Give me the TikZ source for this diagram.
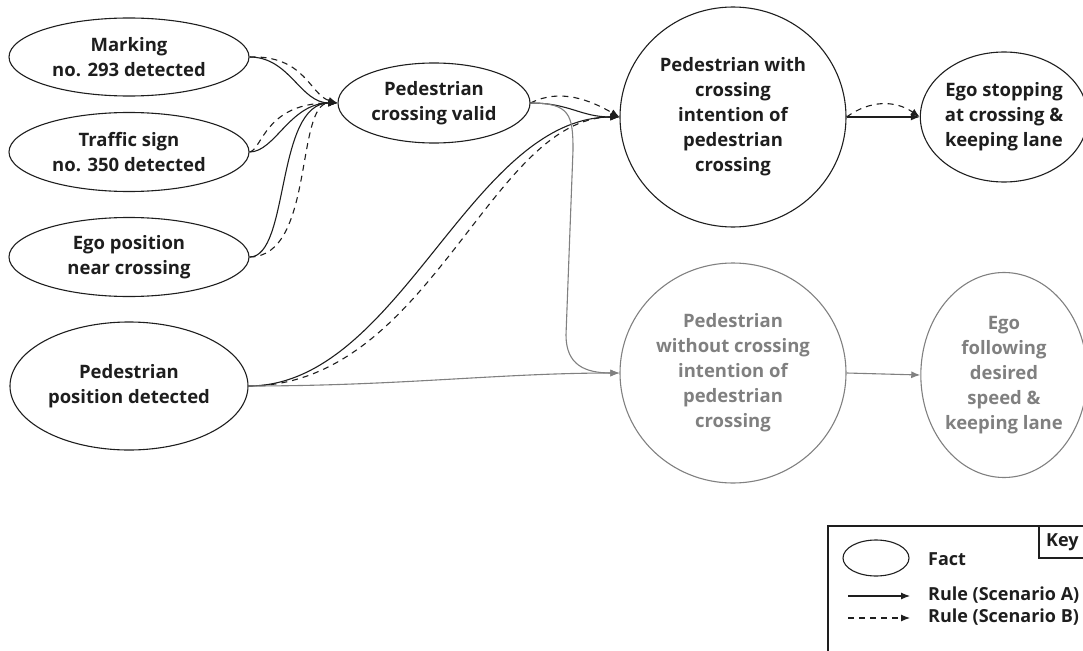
\documentclass[tikz,border=0pt]{standalone}
\usepackage{fontspec}
\setmainfont{Open Sans}
\usetikzlibrary{shapes.geometric,arrows.meta}
\definecolor{ink}{HTML}{1E1E1E}
\definecolor{dim}{HTML}{808080}

\begin{document}
\begin{tikzpicture}[x=1pt,y=-1pt]
			%\draw[help lines] (0,0) grid (1083,650);
			\clip (0,0) rectangle (1083,650);
			
			\tikzset{
				fact/.style = {ellipse, draw=ink, line width=1.1pt, text=ink, inner sep=0pt, align=center,
					font=\fontsize{18.5}{25}\selectfont\bfseries},
				dimfact/.style = {fact, draw=dim, text=dim},
				ruleA/.style = {draw=ink, line width=1.1pt, -{Latex[length=9pt,width=7pt]}},
				ruleB/.style = {ruleA, dash pattern=on 6pt off 5pt},
				dimrule/.style = {ruleA, draw=dim},
				keytext/.style = {anchor=west, text=ink, inner sep=0pt, font=\fontsize{18}{20}\selectfont\bfseries}
			}
			
			\node[fact, minimum width=240pt, minimum height=78pt] (0) at (129,57) {Marking\\no. 293 detected};
			\node[fact, minimum width=240pt, minimum height=79pt] (1) at (129,152) {Traffic sign\\no. 350 detected};
			\node[fact, minimum width=240pt, minimum height=79pt] (2) at (129,257) {Ego position\\near crossing};
			\node[fact, minimum width=238pt, minimum height=128pt] (3) at (129,386) {Pedestrian\\position detected};
			
			\node[fact, minimum width=192pt, minimum height=80pt] (10) at (434,103) {Pedestrian\\crossing valid};
			
			\node[fact, minimum width=226pt, minimum height=220pt] (20) at (733,117) {Pedestrian with\\crossing\\intention of\\pedestrian\\crossing};
			\node[dimfact, minimum width=226pt, minimum height=220pt] (21) at (733,373) {Pedestrian\\without crossing\\intention of\\pedestrian\\crossing};
			
			\node[fact, minimum width=162pt, minimum height=130pt] (30) at (1004,117) {Ego stopping\\at crossing \&\\keeping lane};
			\node[dimfact, minimum width=162pt, minimum height=205pt] (31) at (1004,375) {Ego\\following\\desired\\speed \&\\keeping lane};
			
			% scenario A
			\draw[ruleA] (0.east) .. controls (290,57) and (300,103) .. (10.west);
			\draw[ruleA] (1.east) .. controls (275,152) and (290,103) .. (10.west);
			\draw[ruleA] (2.east) .. controls (290,257) and (275,103) .. (10.west);
			\draw[ruleA] (10.east) .. controls (570,103) and (580,117) .. (20.west);
			\draw[ruleA] (3.east) .. controls (400,386) and (470,117) .. (20.west);
			\draw[ruleA] (20.east) -- (30.west);
			
			% scenario B
			\draw[ruleB] (0.east) .. controls (305,55) and (310,95) .. (10.west);
			\draw[ruleB] (1.east) .. controls (262,150) and (265,103) .. (10.west);
			\draw[ruleB] (2.east) .. controls (315,257) and (295,103) .. (10.west);
			\draw[ruleB] (10.east) .. controls (560,88) and (590,100) .. (20.west);
			\draw[ruleB] (3.east) .. controls (430,386) and (490,117) .. (20.west);
			\draw[ruleB] (20.east) .. controls (870,100) and (895,100) .. (30.west);
			
			% not taken
			\draw[dimrule] (10.east) .. controls (570,103) and (573,115) .. (573,150) -- (566,335) .. controls (566,365) and (585,373) .. (21.west);
			\draw[dimrule] (3.east) .. controls (400,386) and (500,373) .. (21.west);
			\draw[dimrule] (21.east) -- (31.west);
			
			% key
			\draw[ink, line width=1.1pt] (828,526) rectangle (1100,670);
			\draw[ink, line width=1.1pt] (1039,526) rectangle (1100,558);
			\node[keytext] (k) at (1046,542) {Key};
			\node[fact, minimum width=66pt, minimum height=36pt] (k0) at (876,558) {};
			\coordinate (ka0) at (848,596);
			\coordinate (ka1) at (910,596);
			\coordinate (kb0) at (848,618);
			\coordinate (kb1) at (910,618);
			\draw[ruleA] (ka0) -- (ka1);
			\draw[ruleB] (kb0) -- (kb1);
			\node[keytext] (kt0) at (928,559) {Fact};
			\node[keytext] (kt1) at (928,595) {Rule (Scenario A)};
			\node[keytext] (kt2) at (928,617) {Rule (Scenario B)};
		\end{tikzpicture}
\end{document}
